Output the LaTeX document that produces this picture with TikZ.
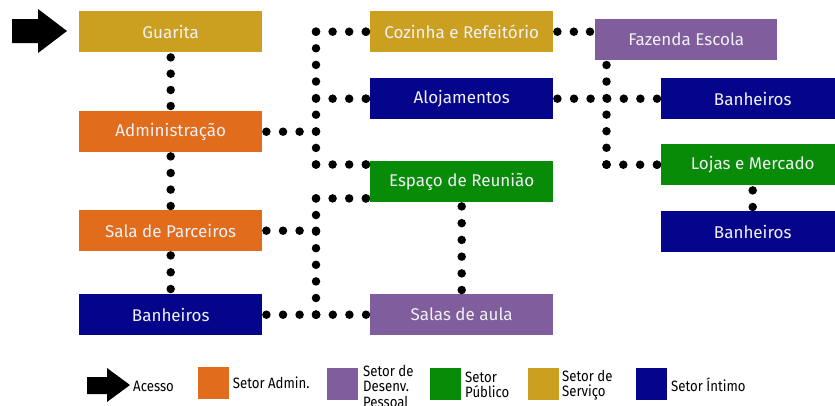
\documentclass[tikz,border=0pt]{standalone}
\usepackage{fontspec}
\usetikzlibrary{decorations.markings}
\setmainfont{Fira Sans}
\newfontfamily\legfont[FakeStretch=0.88]{Fira Sans}
\definecolor{cgold}{RGB}{203,160,32}
\definecolor{corange}{RGB}{224,108,28}
\definecolor{cpurple}{RGB}{128,94,158}
\definecolor{cgreen}{RGB}{8,140,8}
\definecolor{cblue}{RGB}{5,5,140}
\definecolor{ctext}{RGB}{240,240,245}
\begin{document}
\begin{tikzpicture}[x=1pt,y=-1pt,
  box/.style={minimum width=183pt, minimum height=41pt, inner sep=0pt, text=ctext,
    font=\fontsize{17}{20}\selectfont, anchor=north west},
  dotrow/.style={decorate, decoration={markings,
      mark=between positions 0 and 1 step #1 with {\fill[black] (0,0) circle (4.25pt);},
      mark=at position 1 with {\fill[black] (0,0) circle (4.25pt);}}},
  legsq/.style={minimum width=31pt, minimum height=32pt, inner sep=0pt},
  legtxt/.style={anchor=west, inner sep=0pt, font=\legfont\fontsize{15}{15.5}\selectfont, align=left}]
\fill[white] (0,0) rectangle (835,405);
\useasboundingbox (0,0) rectangle (835,405);
% boxes
\node[box,fill=cgold] (gu) at (79,11) {Guarita};
\node[box,fill=corange] (ad) at (79,111) {Administração};
\node[box,fill=corange] (sp) at (79,210) {Sala de Parceiros};
\node[box,fill=cblue] (b1) at (79,294) {Banheiros};
\node[box,fill=cgold] (cz) at (370,11) {Cozinha e Refeitório};
\node[box,fill=cblue] (al) at (370,78) {Alojamentos};
\node[box,fill=cgreen] (er) at (370,161) {Espaço de Reunião};
\node[box,fill=cpurple] (sa) at (370,294) {Salas de aula};
\node[box,fill=cpurple,minimum width=182pt] (fz) at (595,19) {Fazenda Escola};
\node[box,fill=cblue] (b2) at (661,78) {Banheiros};
\node[box,fill=cgreen] (lm) at (661,144) {Lojas e Mercado};
\node[box,fill=cblue] (b3) at (661,211) {Banheiros};
% junction coordinates
\coordinate (tk) at (316,0);
\coordinate (tf) at (606.5,0);
\coordinate (ert) at ([yshift=-3.5pt]er.north west);
\coordinate (erb) at ([yshift=4pt]er.south west);
\coordinate (fzw) at ([xshift=-5pt]fz.west);
\coordinate (fzt) at (606.5,65);
% connectors
\path[dotrow=16.3pt] ([yshift=-5pt]gu.south) -- ([yshift=5pt]ad.north);
\path[dotrow=16.6pt] ([yshift=-4pt]ad.south) -- ([yshift=4pt]sp.north);
\path[dotrow=16.9pt] ([yshift=-4pt]sp.south) -- ([yshift=5pt]b1.north);
\path[dotrow=16.6pt] ([xshift=4pt]ad.east) -- (tk |- ad.east);
\path[dotrow=16.6pt] (tk |- cz.west) -- (tk |- ert);
\path[dotrow=16.6pt] (tk |- cz.west) -- ([xshift=-4pt]cz.west);
\path[dotrow=16.6pt] (tk |- al.west) -- ([xshift=-4pt]al.west);
\path[dotrow=16.6pt] (tk |- ert) -- ([xshift=-4pt]ert);
\path[dotrow=16.6pt] (tk |- erb) -- (tk |- sa.west);
\path[dotrow=16.6pt] (tk |- erb) -- ([xshift=-4pt]erb);
\path[dotrow=16.6pt] ([xshift=4pt]sp.east) -- (tk |- sp.east);
\path[dotrow=16.6pt] ([xshift=4pt]b1.east) -- ([xshift=-4pt]sa.west);
\path[dotrow=16.75pt] ([yshift=-4pt]er.south) -- ([yshift=4pt]sa.north);
\path[dotrow=16.45pt] ([xshift=4pt]cz.east) -- (fzw |- cz.east);
\path[dotrow=16.55pt] (fzt) -- (tf |- lm.west);
\path[dotrow=16.6pt] ([xshift=4pt]al.east) -- ([xshift=-4pt]b2.west);
\path[dotrow=16.8pt] (tf |- lm.west) -- ([xshift=-4pt]lm.west);
\path[dotrow=16.9pt] ([yshift=-5pt]lm.south) -- ([yshift=4pt]b3.north);
% access arrow
\fill[black] (12,19) -- (38,19) -- (38,9) -- (67,31) -- (38,53) -- (38,43) -- (12,43) -- cycle;
% legend
\fill[black] (87,377) -- (107,377) -- (107,368) -- (130,385) -- (107,402) -- (107,394) -- (87,394) -- cycle;
\node[legtxt] (lacc) at (133,386) {Acesso};
\node[legsq,fill=corange] (lsa) at (213,383) {};
\node[legtxt] (lsat) at ([xshift=4pt]lsa.east) {Setor Admin.};
\node[legsq,fill=cpurple] (lsd) at (342,384) {};
\node[legtxt] (lsdt) at (363,386) {Setor de\\Desenv.\\Pessoal};
\node[legsq,fill=cgreen] (lsp) at (445,384) {};
\node[legtxt] (lspt) at (465,385) {Setor\\Público};
\node[legsq,fill=cgold] (lss) at (543,384) {};
\node[legtxt] (lsst) at (562,385) {Setor de\\Serviço};
\node[legsq,fill=cblue] (lsi) at (651,384) {};
\node[legtxt] (lsit) at (671,385) {Setor Íntimo};
\end{tikzpicture}
\end{document}
